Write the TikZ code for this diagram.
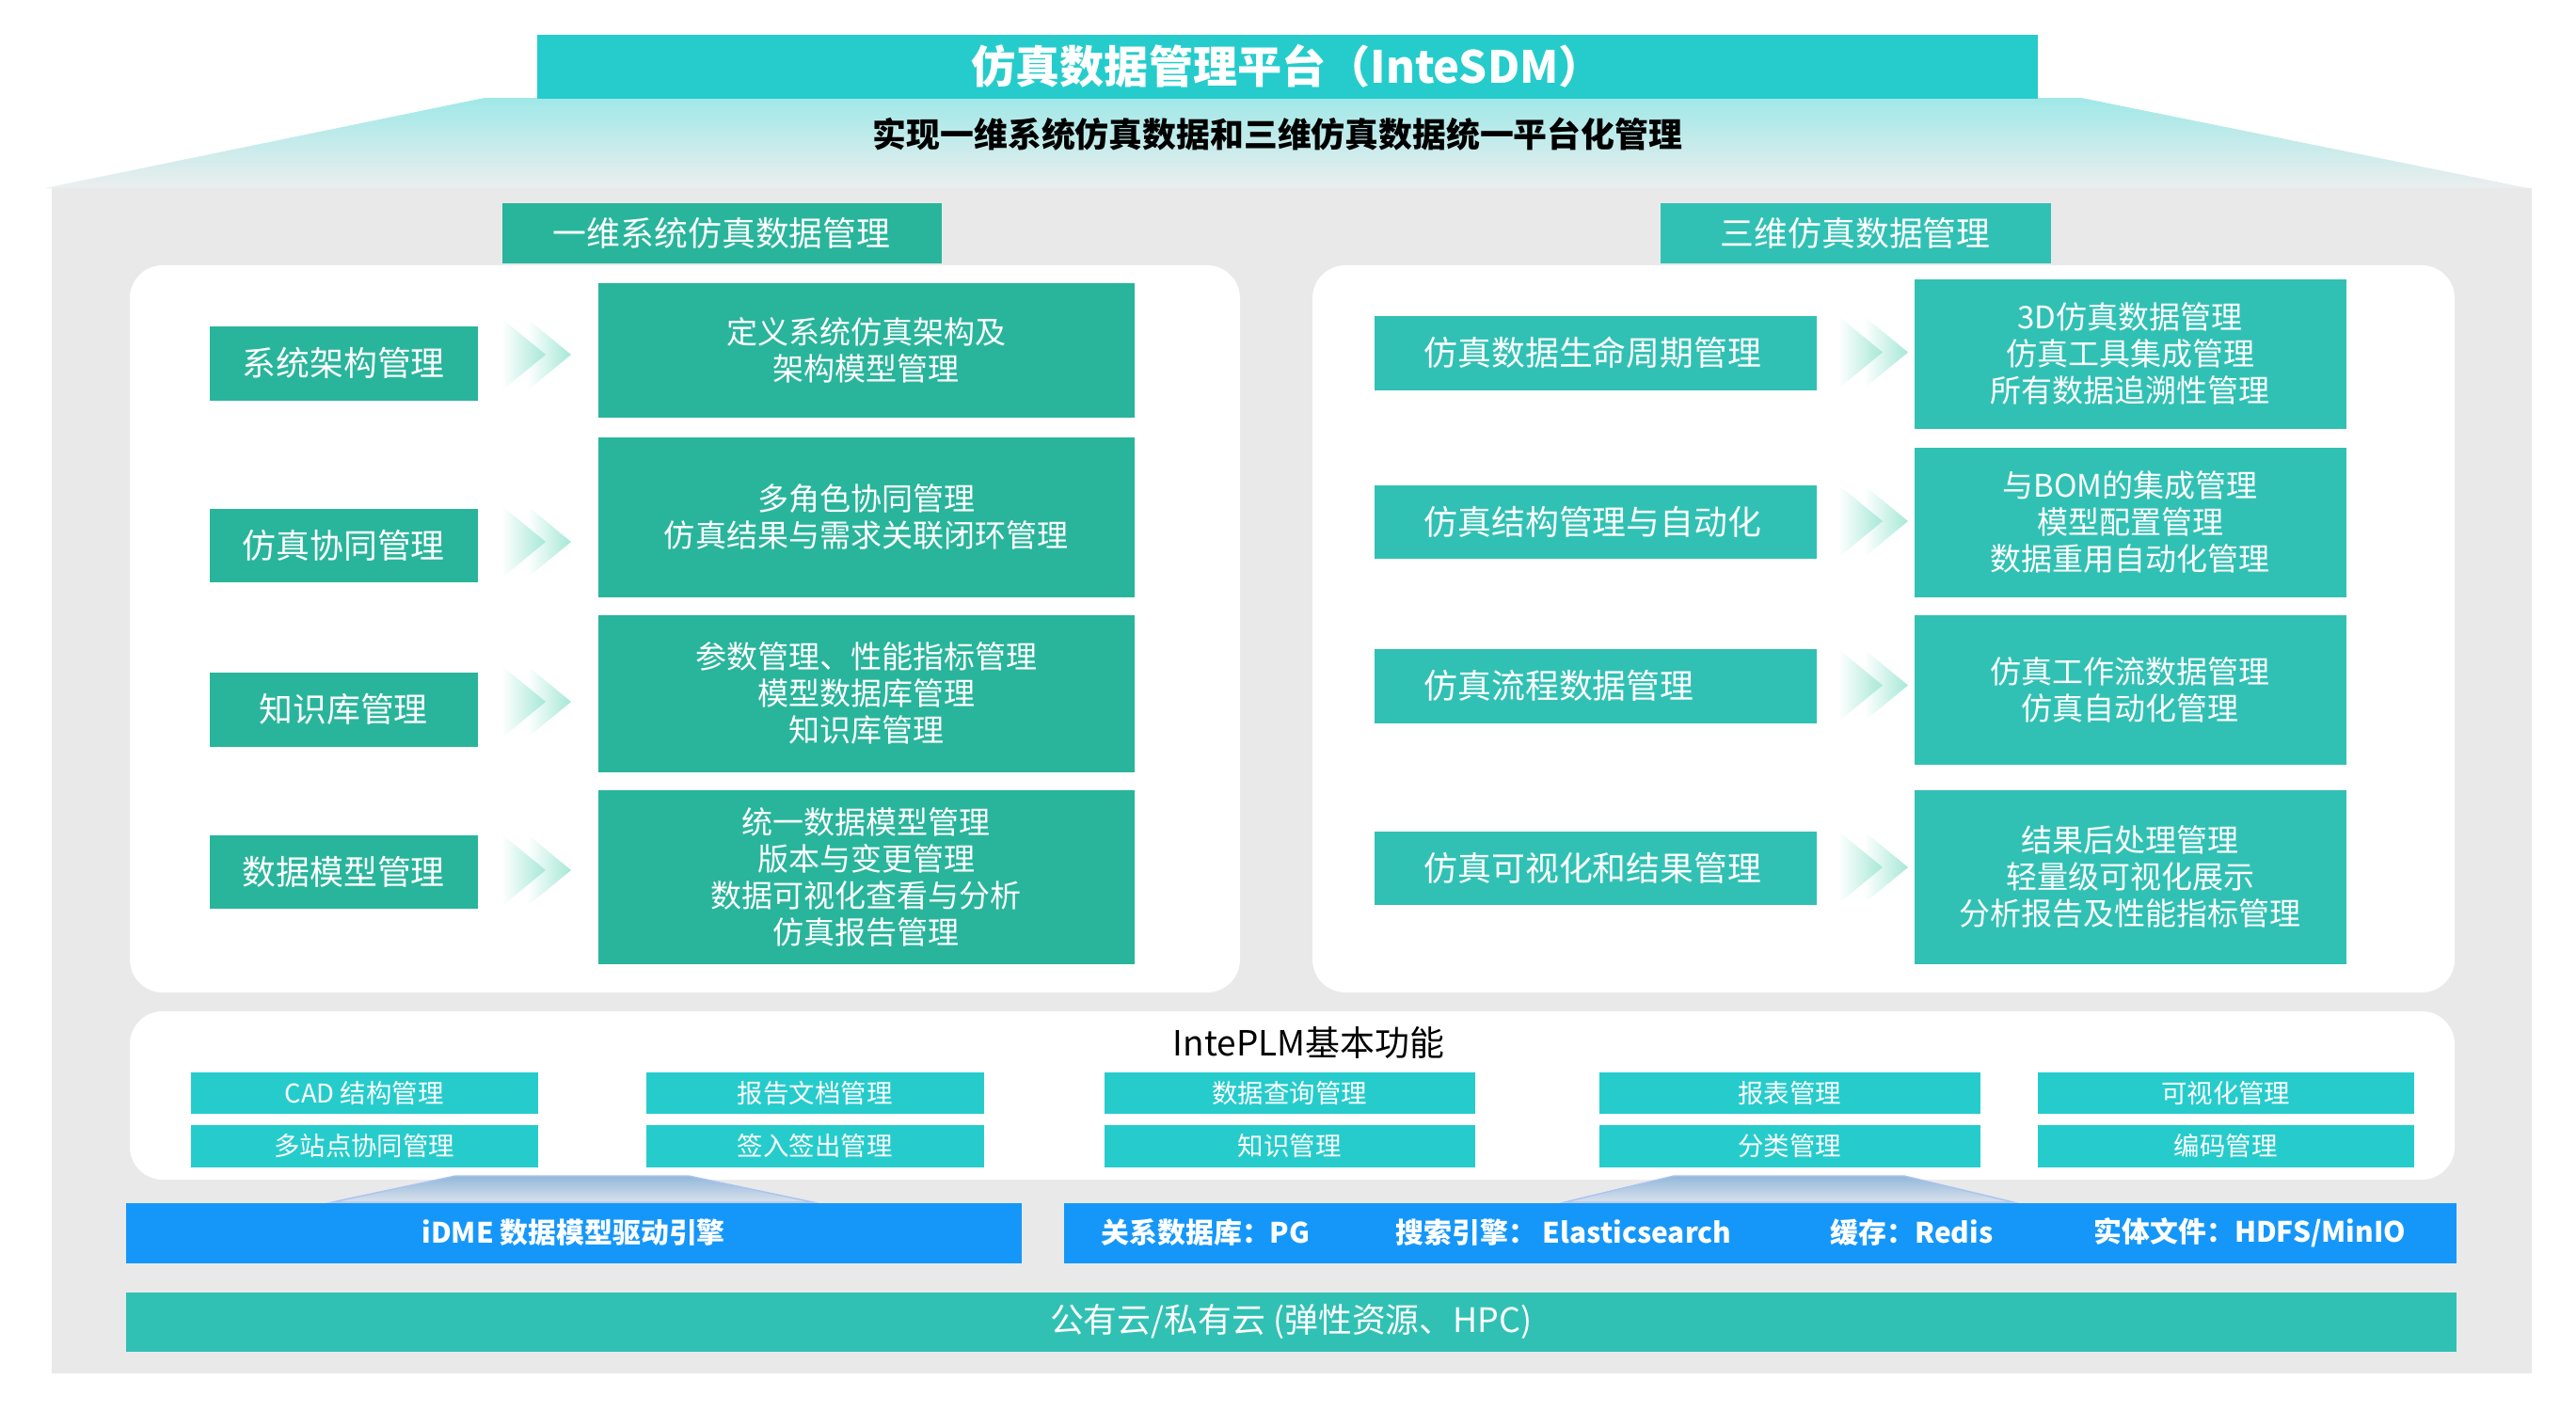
\documentclass[tikz,border=0pt]{standalone}
\usepackage{fontspec}
\setmainfont{Noto Sans CJK SC}

\definecolor{titlecyan}{RGB}{38,204,204}
\definecolor{leftgreen}{RGB}{41,181,155}
\definecolor{rightteal}{RGB}{49,193,180}
\definecolor{bodygrey}{RGB}{233,233,233}
\definecolor{engineblue}{RGB}{21,151,250}
\definecolor{chevmint}{RGB}{165,232,214}
\definecolor{roofcyan}{RGB}{160,232,232}
\definecolor{roofgrey}{RGB}{236,238,238}
\definecolor{linkblue}{RGB}{146,184,218}
\definecolor{linkpale}{RGB}{218,226,236}
\definecolor{linkedge}{RGB}{170,195,240}

\tikzset{
  base/.style={inner sep=0pt, anchor=north west, text=white, align=center},
  lefttag/.style={base, fill=leftgreen, minimum width=2.85cm, font=\fontsize{10.2}{12}\selectfont},
  leftdesc/.style={base, fill=leftgreen, minimum width=5.70cm, font=\fontsize{9.4}{11.1}\selectfont},
  righttag/.style={base, fill=rightteal, minimum width=4.70cm, text width=3.64cm, inner xsep=0.53cm, align=left, font=\fontsize{10.2}{12}\selectfont},
  rightdesc/.style={base, fill=rightteal, minimum width=4.59cm, font=\fontsize{9.4}{11.1}\selectfont},
  func/.style={base, fill=titlecyan, font=\fontsize{7.8}{9}\selectfont},
  store/.style={anchor=west, inner sep=0pt, text=white, font=\bfseries\fontsize{8.5}{10}\selectfont},
  panel/.style={fill=white, rounded corners=0.35cm},
  chev/.style={left color=white, right color=chevmint},
}

\begin{document}
\begin{tikzpicture}

\useasboundingbox (0,0) rectangle (27.38,-15.01);
\fill[white] (0,0) rectangle (27.38,-15.01);

% Roof and body
\shade[top color=roofcyan, bottom color=roofgrey] (5.15,-1.04) -- (22.12,-1.04) -- (26.87,-2.00) -- (0.48,-2.00) -- cycle;
\fill[bodygrey] (0.55,-2.00) rectangle (26.91,-14.60);

% Title bar and subtitle
\node[base, fill=titlecyan, minimum width=15.95cm, minimum height=0.68cm, font=\bfseries\fontsize{13.4}{15}\selectfont] (title) at (5.70,-0.36) {仿真数据管理平台（InteSDM）};
\node[font=\bfseries\fontsize{10.2}{12}\selectfont] (subtitle) at (13.58,-1.43) {实现一维系统仿真数据和三维仿真数据统一平台化管理};

% Headers
\node[base, fill=leftgreen, minimum width=4.67cm, minimum height=0.64cm, font=\fontsize{10.2}{12}\selectfont] (onedhead) at (5.33,-2.15) {一维系统仿真数据管理};
\node[base, fill=rightteal, minimum width=4.15cm, minimum height=0.64cm, font=\fontsize{10.2}{12}\selectfont] (threedhead) at (17.64,-2.15) {三维仿真数据管理};

% White panels
\fill[panel] (1.38,-2.82) rectangle (13.18,-10.55);
\fill[panel] (13.95,-2.82) rectangle (26.09,-10.55);

% Left panel: tags
\node[lefttag, minimum height=0.79cm] (sysarch) at (2.22,-3.46) {系统架构管理};
\node[lefttag, minimum height=0.78cm] (collab) at (2.22,-5.40) {仿真协同管理};
\node[lefttag, minimum height=0.79cm] (knowbase) at (2.22,-7.14) {知识库管理};
\node[lefttag, minimum height=0.78cm] (datamodel) at (2.22,-8.87) {数据模型管理};

% Left panel: descriptions
\node[leftdesc, minimum height=1.43cm] (sysarchdesc) at (6.35,-3.00) {定义系统仿真架构及\\架构模型管理};
\node[leftdesc, minimum height=1.70cm] (collabdesc) at (6.35,-4.64) {多角色协同管理\\仿真结果与需求关联闭环管理};
\node[leftdesc, minimum height=1.67cm] (knowbasedesc) at (6.35,-6.53) {参数管理、性能指标管理\\模型数据库管理\\知识库管理};
\node[leftdesc, minimum height=1.85cm] (datamodeldesc) at (6.35,-8.39) {统一数据模型管理\\版本与变更管理\\数据可视化查看与分析\\仿真报告管理};

% Right panel: tags
\node[righttag, minimum height=0.79cm] (lifecycle) at (14.60,-3.35) {仿真数据生命周期管理};
\node[righttag, minimum height=0.78cm] (structure) at (14.60,-5.15) {仿真结构管理与自动化};
\node[righttag, minimum height=0.79cm] (process) at (14.60,-6.89) {仿真流程数据管理};
\node[righttag, minimum height=0.78cm] (visual) at (14.60,-8.83) {仿真可视化和结果管理};

% Right panel: descriptions
\node[rightdesc, minimum height=1.59cm] (lifecycledesc) at (20.34,-2.96) {3D仿真数据管理\\仿真工具集成管理\\所有数据追溯性管理};
\node[rightdesc, minimum height=1.59cm] (structuredesc) at (20.34,-4.75) {与BOM的集成管理\\模型配置管理\\数据重用自动化管理};
\node[rightdesc, minimum height=1.59cm] (processdesc) at (20.34,-6.53) {仿真工作流数据管理\\仿真自动化管理};
\node[rightdesc, minimum height=1.85cm] (visualdesc) at (20.34,-8.39) {结果后处理管理\\轻量级可视化展示\\分析报告及性能指标管理};

% Double chevrons between tags and descriptions
\foreach \x/\y in {5.33/-3.77, 5.33/-5.76, 5.33/-7.46, 5.33/-9.25, 19.54/-3.745, 19.54/-5.54, 19.54/-7.285, 19.54/-9.22} {
  \shade[chev] (\x+0.27,\y+0.385) -- (\x+0.74,\y) -- (\x+0.27,\y-0.385) -- cycle;
  \shade[chev] (\x,\y+0.385) -- (\x+0.47,\y) -- (\x,\y-0.385) -- cycle;
}

% IntePLM panel
\fill[panel] (1.38,-10.75) rectangle (26.09,-12.54);
\node[font=\fontsize{10.5}{12}\selectfont] (plmtitle) at (13.91,-11.08) {IntePLM基本功能};
\foreach \x/\w/\a/\b/\n in {2.02/3.69/CAD 结构管理/多站点协同管理/1, 6.86/3.59/报告文档管理/签入签出管理/2, 11.73/3.94/数据查询管理/知识管理/3, 16.99/4.05/报表管理/分类管理/4, 21.65/4.00/可视化管理/编码管理/5} {
  \node[func, minimum width=\w cm, minimum height=0.44cm] (funcup\n) at (\x,-11.39) {\a};
  \node[func, minimum width=\w cm, minimum height=0.45cm] (funclow\n) at (\x,-11.95) {\b};
}

% Links down to the engine and storage bars
\shade[top color=linkblue, bottom color=linkpale, draw=linkedge, line width=0.4pt] (4.84,-12.50) -- (7.32,-12.50) -- (8.64,-12.78) -- (3.53,-12.78) -- cycle;
\shade[top color=linkblue, bottom color=linkpale, draw=linkedge, line width=0.4pt] (17.79,-12.50) -- (20.24,-12.50) -- (21.40,-12.78) -- (16.63,-12.78) -- cycle;

% Engine and storage bars
\node[base, fill=engineblue, minimum width=9.52cm, minimum height=0.64cm, font=\bfseries\fontsize{8.5}{10}\selectfont] (engine) at (1.33,-12.78) {iDME 数据模型驱动引擎};
\node[base, fill=engineblue, minimum width=14.80cm, minimum height=0.64cm] (storage) at (11.30,-12.78) {};
\node[store] (db) at (11.70,-13.10) {关系数据库：PG};
\node[store] (search) at (14.83,-13.10) {搜索引擎： Elasticsearch};
\node[store] (cache) at (19.45,-13.10) {缓存：Redis};
\node[store] (files) at (22.25,-13.10) {实体文件：HDFS/MinIO};

% Cloud bar
\node[base, fill=rightteal, minimum width=24.77cm, minimum height=0.63cm, font=\fontsize{10.2}{12}\selectfont] (cloud) at (1.33,-13.73) {公有云/私有云 (弹性资源、HPC)};

\end{tikzpicture}
\end{document}
